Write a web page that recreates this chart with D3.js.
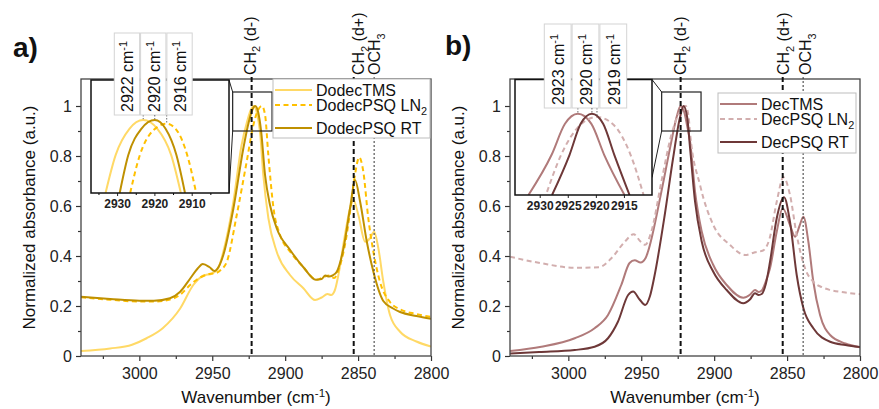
<!DOCTYPE html>
<html>
<head>
<meta charset="utf-8">
<script src="https://cdnjs.cloudflare.com/ajax/libs/d3/7.8.5/d3.min.js"></script>
<style>
body { margin: 0; background: #fff; }
svg { display: block; font-family: "Liberation Sans", Arial, sans-serif; }
</style>
</head>
<body>
<div id="chart"></div>
<script>
// [wavenumber, normalized absorbance]
const dodecTMS = [[3040,0.020],[3020,0.030],[3005,0.045],[2995,0.071],[2984,0.111],[2972,0.190],[2963,0.284],[2956,0.322],[2950,0.330],[2946,0.350],[2942.4,0.417],[2935.5,0.617],[2930,0.84],[2926,0.94],[2923.5,0.985],[2921.5,1.0],[2919.5,0.975],[2917,0.88],[2915,0.724],[2911.5,0.551],[2905.8,0.417],[2896.7,0.324],[2887.5,0.271],[2879.5,0.224],[2875,0.234],[2871,0.248],[2868.5,0.244],[2866,0.262],[2863.5,0.324],[2859,0.484],[2855.5,0.591],[2853.2,0.624],[2849.8,0.564],[2845.2,0.457],[2841.8,0.471],[2839,0.497],[2836.1,0.431],[2832.7,0.297],[2828.1,0.164],[2821.2,0.097],[2810,0.058],[2800,0.038]];
const dodecLN2 = [[3040,0.235],[3020,0.225],[3000,0.218],[2990,0.218],[2979,0.226],[2972,0.245],[2965,0.285],[2958,0.315],[2952,0.328],[2947,0.333],[2944,0.345],[2940,0.377],[2933.2,0.564],[2926.4,0.777],[2921.8,0.924],[2918.5,0.985],[2916,1.0],[2913.8,0.965],[2911.5,0.80],[2908,0.591],[2903.5,0.484],[2896.7,0.418],[2887.5,0.355],[2878.3,0.305],[2873,0.318],[2869.5,0.322],[2866.5,0.312],[2862.5,0.36],[2858.5,0.46],[2855,0.60],[2852,0.73],[2849.2,0.795],[2846.4,0.737],[2843,0.551],[2839.5,0.417],[2835,0.297],[2828,0.215],[2821,0.186],[2810,0.168],[2800,0.156]];
const dodecRT = [[3040,0.237],[3020,0.228],[3000,0.221],[2990,0.221],[2979,0.231],[2972,0.257],[2965,0.311],[2960,0.350],[2956.5,0.368],[2952,0.356],[2948.5,0.340],[2945.5,0.358],[2942.4,0.404],[2935.5,0.590],[2928.7,0.830],[2925,0.935],[2922.5,0.985],[2920.5,1.0],[2918.5,0.975],[2916.5,0.90],[2913.8,0.724],[2910.4,0.604],[2905.8,0.511],[2896.7,0.425],[2887.5,0.355],[2879,0.305],[2875,0.308],[2872.5,0.322],[2870,0.318],[2867.5,0.322],[2864.6,0.337],[2860,0.431],[2855.5,0.591],[2852.1,0.704],[2848.6,0.617],[2844,0.457],[2839.5,0.337],[2832.7,0.220],[2826,0.190],[2821.2,0.176],[2810,0.160],[2800,0.149]];

const decTMS = [[3040,0.020],[3018.5,0.037],[2995.6,0.071],[2982,0.111],[2972.8,0.164],[2963.7,0.284],[2958,0.372],[2954.5,0.383],[2950.5,0.374],[2947,0.392],[2945.4,0.417],[2936.2,0.657],[2929.4,0.857],[2925.8,0.955],[2923,1.0],[2920.5,0.975],[2918.5,0.92],[2916.5,0.857],[2913.1,0.657],[2908.5,0.497],[2900.6,0.364],[2891.4,0.284],[2880,0.233],[2875.5,0.245],[2872,0.264],[2869.5,0.256],[2867.4,0.262],[2864.5,0.300],[2861.7,0.351],[2857.1,0.497],[2853,0.591],[2848,0.524],[2844.5,0.477],[2841.5,0.520],[2838.8,0.557],[2835.4,0.457],[2832,0.297],[2827.4,0.164],[2820.5,0.084],[2810,0.050],[2800,0.035]];
const decLN2 = [[3040,0.397],[3018.5,0.371],[2995.6,0.353],[2979,0.355],[2970.5,0.391],[2961.3,0.457],[2955.2,0.487],[2950.5,0.458],[2947.3,0.445],[2943.1,0.497],[2936.2,0.697],[2929.4,0.884],[2925,0.96],[2922,0.99],[2919.5,1.0],[2917.5,0.955],[2916.5,0.89],[2909.7,0.684],[2900.6,0.524],[2889.1,0.444],[2878.8,0.404],[2872,0.415],[2866.5,0.422],[2862,0.47],[2857.1,0.617],[2852.5,0.715],[2848,0.644],[2843.4,0.484],[2837.7,0.351],[2832,0.297],[2826,0.275],[2820.5,0.264],[2810,0.254],[2800,0.247]];
const decRT = [[3040,0.010],[3020,0.016],[2995.6,0.024],[2982,0.037],[2972.8,0.071],[2966,0.137],[2959,0.244],[2955.6,0.258],[2951,0.225],[2947.3,0.204],[2944,0.240],[2940.8,0.324],[2933.9,0.564],[2928.2,0.790],[2923.6,0.950],[2921,1.0],[2918.5,0.955],[2916.5,0.830],[2913.1,0.617],[2908.5,0.457],[2900.6,0.337],[2891.4,0.264],[2880,0.211],[2875.5,0.226],[2872,0.251],[2869.5,0.244],[2867.4,0.248],[2864.5,0.29],[2861.7,0.377],[2857.1,0.551],[2852.1,0.635],[2848,0.537],[2843.4,0.324],[2838.8,0.191],[2832,0.111],[2820.5,0.057],[2810,0.044],[2800,0.036]];

// peak tops as seen in the insets
const dodecTMSZoom = [[2933.1,0.9],[2930.4,0.952],[2926.7,0.988],[2923,1.0],[2919.2,0.988],[2915.5,0.952],[2912.9,0.9]];
const dodecLN2Zoom = [[2926.5,0.9],[2923.9,0.952],[2920.3,0.986],[2916.7,0.995],[2914,0.986],[2911.2,0.952],[2908.8,0.9]];
const dodecRTZoom = [[2929.3,0.9],[2927,0.952],[2923.5,0.988],[2919.9,1.0],[2917,0.988],[2914.1,0.952],[2911.8,0.9]];
const decTMSZoom = [[2932.0,0.87],[2927.9,0.934],[2925.5,0.984],[2923.2,1.0],[2920.8,0.984],[2918.5,0.934],[2914.9,0.87]];
const decLN2Zoom = [[2928.7,0.875],[2926.2,0.934],[2922.8,0.982],[2919.8,0.995],[2916.8,0.982],[2913.8,0.934],[2911.5,0.87]];
const decRTZoom = [[2927.8,0.87],[2924.7,0.934],[2922.7,0.984],[2920.7,1.0],[2918.7,0.984],[2916.7,0.934],[2914.0,0.87]];

const dodecPeaks = ['2922', '2920', '2916'];
const decPeaks = ['2923', '2920', '2919'];

const wnTicks = [3000, 2950, 2900, 2850, 2800];
const wnMinor = [3025, 2975, 2925, 2875, 2825];
const absTicks = [0, 0.2, 0.4, 0.6, 0.8, 1];
const absMinor = [0.1, 0.3, 0.5, 0.7, 0.9];

const bands = [
  { w: 2923, parts: [{t:'CH'},{t:'2',sub:true},{t:' (d-)'}], style: 'ch2' },
  { w: 2853, parts: [{t:'CH'},{t:'2',sub:true},{t:' (d+)'}], style: 'ch2' },
  { w: 2839, parts: [{t:'OCH'},{t:'3',sub:true}], style: 'och3' }
];

const plotTop = 79, plotH = 277, plotW = 350;
const zoomWin = { w: [2936, 2909], v: [0.9, 1.056] };

const panels = [
  {
    letter: 'a)', letterPos: [13, 57], left: 81,
    series: [dodecTMS, dodecLN2, dodecRT],
    zooms: [dodecTMSZoom, dodecLN2Zoom, dodecRTZoom],
    names: [[{t:'DodecTMS'}], [{t:'DodecPSQ LN'},{t:'2',sub:true}], [{t:'DodecPSQ RT'}]],
    colors: ['#ffd966', '#ffc000', '#bf9000'],
    peaks: dodecPeaks,
    inset: { x: 91, y: 80, w: 138, h: 113, xDomain: [2937, 2900], yDomain: [0.9, 1.055],
             ticks: [2930, 2920, 2910], minor: [2935, 2925, 2915, 2905], connY: 113 },
    labelBox: { x0: 114.3, w: 26.3, y0: 33, y1: 115 },
    legend: { x: 273, y: 79, w: 157, h: 59 },
    bandDx: [4, 10, 6]
  },
  {
    letter: 'b)', letterPos: [445, 55], left: 510,
    series: [decTMS, decLN2, decRT],
    zooms: [decTMSZoom, decLN2Zoom, decRTZoom],
    names: [[{t:'DecTMS'}], [{t:'DecPSQ LN'},{t:'2',sub:true}], [{t:'DecPSQ RT'}]],
    colors: ['#b07a7a', '#d2aeae', '#6e3838'],
    peaks: decPeaks,
    inset: { x: 515, y: 79.5, w: 137, h: 115.5, xDomain: [2934.4, 2910], yDomain: [0.87, 1.055],
             ticks: [2930, 2925, 2920, 2915], minor: [], connY: 98 },
    labelBox: { x0: 544.3, w: 27.8, y0: 24, y1: 108 },
    legend: { x: 718, y: 93, w: 138, h: 60 },
    bandDx: [5, 6, 8]
  }
];

const svg = d3.select('#chart').append('svg')
  .attr('width', 879)
  .attr('height', 409);

function rich(text, parts, size) {
  let shift = 0;
  parts.forEach(p => {
    const target = p.sub ? size * 0.3 : p.sup ? -size * 0.38 : 0;
    text.append('tspan')
      .attr('dy', target - shift)
      .attr('font-size', (p.sub || p.sup) ? size * 0.68 : size)
      .text(p.t);
    shift = target;
  });
}

// vertical text reading bottom to top, starting at (x, y)
function vtext(parent, x, y, parts, size) {
  const t = parent.append('g')
    .attr('transform', 'translate(' + x + ',' + y + ') rotate(-90)')
    .append('text')
    .attr('x', 0).attr('y', 0)
    .attr('fill', '#111');
  rich(t, parts, size);
  return t;
}

panels.forEach((P, pi) => {
  const x = d3.scaleLinear().domain([3040, 2800]).range([P.left, P.left + plotW]);
  const y = d3.scaleLinear().domain([0, 1.108]).range([plotTop + plotH, plotTop]);
  const g = svg.append('g');

  g.append('clipPath').attr('id', 'clip' + pi)
    .append('rect')
    .attr('x', P.left).attr('y', plotTop)
    .attr('width', plotW).attr('height', plotH);

  // axes
  g.append('g').attr('transform', 'translate(' + P.left + ',0)')
    .call(d3.axisLeft(y).tickValues(absTicks).tickSize(5).tickPadding(4)
      .tickFormat(d => d3.format('~g')(d)));
  g.append('g').attr('transform', 'translate(' + P.left + ',0)')
    .call(d3.axisLeft(y).tickValues(absMinor).tickSize(3).tickFormat(''));
  g.append('g').attr('transform', 'translate(0,' + (plotTop + plotH) + ')')
    .call(d3.axisBottom(x).tickValues(wnTicks).tickSize(5).tickPadding(6.5)
      .tickFormat(d3.format('d')));
  g.append('g').attr('transform', 'translate(0,' + (plotTop + plotH) + ')')
    .call(d3.axisBottom(x).tickValues(wnMinor).tickSize(3).tickFormat(''));
  g.selectAll('.domain').remove();
  g.selectAll('.tick line').attr('stroke', '#333').attr('stroke-width', 1.2);
  g.selectAll('.tick text').attr('font-size', 16).attr('fill', '#222')
    .attr('font-family', '"Liberation Sans", Arial, sans-serif');

  // curves
  const line = d3.line()
    .x(d => x(d[0])).y(d => y(d[1]))
    .curve(d3.curveMonotoneX);
  const curves = g.append('g').attr('clip-path', 'url(#clip' + pi + ')');
  P.series.forEach((s, i) => {
    curves.append('path')
      .attr('d', line(s))
      .attr('fill', 'none')
      .attr('stroke', P.colors[i])
      .attr('stroke-width', 2)
      .attr('stroke-dasharray', i === 1 ? '5,3.5' : null);
  });

  g.append('rect')
    .attr('x', P.left).attr('y', plotTop)
    .attr('width', plotW).attr('height', plotH)
    .attr('fill', 'none').attr('stroke', '#444').attr('stroke-width', 1.3);

  // band markers
  bands.forEach((b, i) => {
    const bx = x(b.w);
    g.append('line')
      .attr('x1', bx).attr('x2', bx)
      .attr('y1', 77).attr('y2', plotTop + plotH)
      .attr('stroke', b.style === 'ch2' ? '#111' : '#333')
      .attr('stroke-width', b.style === 'ch2' ? 2 : 1)
      .attr('stroke-dasharray', b.style === 'ch2' ? '5,3' : '2,2');
    vtext(g, bx + P.bandDx[i], 75, b.parts, 16);
  });

  // zoom window + connectors
  const zx0 = x(zoomWin.w[0]), zx1 = x(zoomWin.w[1]);
  const zy0 = y(zoomWin.v[1]), zy1 = y(zoomWin.v[0]);
  g.append('rect')
    .attr('x', zx0).attr('y', zy0)
    .attr('width', zx1 - zx0).attr('height', zy1 - zy0)
    .attr('fill', 'none').attr('stroke', '#222').attr('stroke-width', 1.2);
  const I = P.inset;
  g.append('line')
    .attr('x1', I.x + I.w).attr('y1', I.y).attr('x2', zx0).attr('y2', zy0)
    .attr('stroke', '#222').attr('stroke-width', 1);
  g.append('line')
    .attr('x1', I.x + I.w).attr('y1', I.y + I.connY).attr('x2', zx0).attr('y2', zy1)
    .attr('stroke', '#222').attr('stroke-width', 1);

  // inset
  const ix = d3.scaleLinear().domain(I.xDomain).range([I.x, I.x + I.w]);
  const iy = d3.scaleLinear().domain(I.yDomain).range([I.y + I.h, I.y]);
  g.append('rect')
    .attr('x', I.x).attr('y', I.y).attr('width', I.w).attr('height', I.h)
    .attr('fill', '#fff');
  g.append('clipPath').attr('id', 'iclip' + pi)
    .append('rect')
    .attr('x', I.x).attr('y', I.y).attr('width', I.w).attr('height', I.h);
  const iline = d3.line()
    .x(d => ix(d[0])).y(d => iy(d[1]))
    .curve(d3.curveMonotoneX);
  const icurves = g.append('g').attr('clip-path', 'url(#iclip' + pi + ')');
  P.zooms.forEach((s, i) => {
    icurves.append('path')
      .attr('d', iline(s))
      .attr('fill', 'none')
      .attr('stroke', P.colors[i])
      .attr('stroke-width', 2)
      .attr('stroke-dasharray', i === 1 ? '5,3.5' : null);
  });
  const iAx = g.append('g').attr('transform', 'translate(0,' + (I.y + I.h) + ')')
    .call(d3.axisBottom(ix).tickValues(I.ticks).tickSize(3).tickPadding(3)
      .tickFormat(d3.format('d')));
  g.append('g').attr('transform', 'translate(0,' + (I.y + I.h) + ')')
    .call(d3.axisBottom(ix).tickValues(I.minor).tickSize(2).tickFormat(''));
  g.selectAll('.domain').remove();
  iAx.selectAll('.tick line').attr('stroke', '#222');
  iAx.selectAll('.tick text').attr('font-size', 12).attr('font-weight', 'bold')
    .attr('fill', '#222').attr('font-family', '"Liberation Sans", Arial, sans-serif');
  g.append('rect')
    .attr('x', I.x).attr('y', I.y).attr('width', I.w).attr('height', I.h)
    .attr('fill', 'none').attr('stroke', '#111').attr('stroke-width', 1.5);

  // peak labels
  const L = P.labelBox;
  P.peaks.forEach((pk, i) => {
    const bx = L.x0 + i * L.w;
    const top = P.zooms[i].reduce((a, b) => (b[1] > a[1] ? b : a));
    g.append('line')
      .attr('x1', ix(top[0])).attr('x2', ix(top[0]))
      .attr('y1', L.y1).attr('y2', iy(top[1]) - 1)
      .attr('stroke', '#444').attr('stroke-width', 0.8)
      .attr('stroke-dasharray', '1.5,1.5');
    g.append('rect')
      .attr('x', bx).attr('y', L.y0)
      .attr('width', L.w - 1).attr('height', L.y1 - L.y0)
      .attr('fill', '#fff').attr('stroke', '#d4d4d4').attr('stroke-width', 1);
    vtext(g, bx + L.w / 2 + 6, L.y1 - 3, [{t: pk + ' cm'}, {t: '-1', sup: true}], 16);
  });

  // legend
  const G = P.legend;
  g.append('rect')
    .attr('x', G.x).attr('y', G.y).attr('width', G.w).attr('height', G.h)
    .attr('fill', '#fff').attr('stroke', '#bdbdbd').attr('stroke-width', 1);
  const rows = [11, 26, 49];
  P.names.forEach((nm, i) => {
    const ry = G.y + rows[i];
    g.append('line')
      .attr('x1', G.x + 2).attr('x2', G.x + 39)
      .attr('y1', ry).attr('y2', ry)
      .attr('stroke', P.colors[i]).attr('stroke-width', 2)
      .attr('stroke-dasharray', i === 1 ? '5,3.5' : null);
    const t = g.append('text')
      .attr('x', G.x + 43).attr('y', ry + 5.5)
      .attr('fill', '#111');
    rich(t, nm, 16);
  });

  // titles
  g.append('text')
    .attr('x', P.left + plotW / 2).attr('y', 403)
    .attr('text-anchor', 'middle').attr('fill', '#111')
    .call(t => rich(t, [{t: 'Wavenumber (cm'}, {t: '-1', sup: true}, {t: ')'}], 17));
  const yx = P.left - 46, yy = plotTop + plotH / 2;
  g.append('text')
    .attr('x', yx).attr('y', yy)
    .attr('text-anchor', 'middle')
    .attr('transform', 'rotate(-90,' + yx + ',' + yy + ')')
    .attr('font-size', 17).attr('fill', '#111')
    .text('Normalized absorbance (a.u.)');
  g.append('text')
    .attr('x', P.letterPos[0]).attr('y', P.letterPos[1])
    .attr('font-size', 28).attr('font-weight', 'bold').attr('fill', '#111')
    .text(P.letter);
});
</script>
</body>
</html>
